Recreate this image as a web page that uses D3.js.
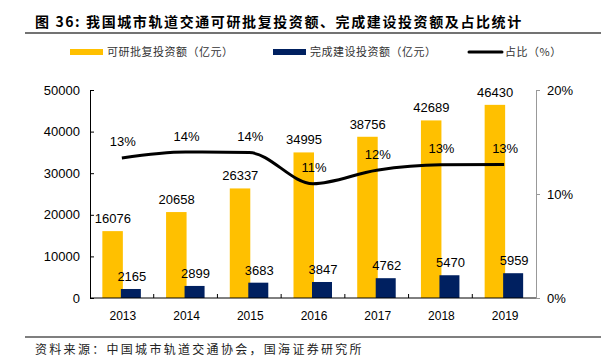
<!DOCTYPE html>
<html>
<head>
<meta charset="utf-8">
<script src="https://cdn.jsdelivr.net/npm/d3@7"></script>
<style>
  body { margin: 0; background: #fff; }
  text { font-family: "Liberation Sans", Arial, sans-serif; }
  .cjk { font-family: "Noto Sans CJK SC", sans-serif; }
</style>
</head>
<body>
<svg id="chart" width="609" height="359"></svg>
<script>
var years = ['2013', '2014', '2015', '2016', '2017', '2018', '2019'],
    approved = [16076, 20658, 26337, 34995, 38756, 42689, 46430],
    completed = [2165, 2899, 3683, 3847, 4762, 5470, 5959],
    ratio = [13.47, 14.03, 13.98, 10.99, 12.29, 12.81, 12.83],
    leftTicks = [0, 10000, 20000, 30000, 40000, 50000],
    rightTicks = [0, 10, 20];

var svg = d3.select('#chart'),
    plotLeft = 90,
    plotRight = 536,
    plotTop = 90,
    plotBottom = 298,
    yellow = '#FFC000',
    navy = '#002060';

var x = d3.scaleBand().domain(years).range([plotLeft, plotRight]),
    y = d3.scaleLinear().domain([0, 50000]).range([plotBottom, plotTop]),
    y2 = d3.scaleLinear().domain([0, 20]).range([plotBottom, plotTop]);

// title and rules
svg.append('text')
   .attr('class', 'cjk')
   .attr('x', 35)
   .attr('y', 27)
   .style('font-size', '14px')
   .style('font-weight', 'bold')
   .style('letter-spacing', '1.6px')
   .text('图 36:  我国城市轨道交通可研批复投资额、完成建设投资额及占比统计');

svg.append('line')
   .attr('x1', 25).attr('x2', 601)
   .attr('y1', 33).attr('y2', 33)
   .attr('stroke', '#444')
   .attr('stroke-width', 1.6);

svg.append('line')
   .attr('x1', 25).attr('x2', 601)
   .attr('y1', 337).attr('y2', 337)
   .attr('stroke', '#555')
   .attr('stroke-width', 1.6);

svg.append('text')
   .attr('class', 'cjk')
   .attr('x', 35)
   .attr('y', 354)
   .style('font-size', '12px')
   .style('letter-spacing', '2.3px')
   .attr('fill', '#222')
   .text('资料来源：中国城市轨道交通协会，国海证券研究所');

// legend
var legend = [
  {label: '可研批复投资额（亿元）', x: 70, kind: 'bar', color: yellow},
  {label: '完成建设投资额（亿元）', x: 273, kind: 'bar', color: navy},
  {label: '占比（%）', x: 468, kind: 'line', color: '#000'}
];

var lg = svg.append('g')
            .selectAll('g')
            .data(legend)
            .join('g')
            .attr('transform', function(d){ return 'translate(' + d.x + ', 52)'; });

lg.filter(function(d){ return d.kind === 'bar'; })
  .append('rect')
  .attr('x', 0).attr('y', -3)
  .attr('width', 33).attr('height', 6)
  .attr('fill', function(d){ return d.color; });

lg.filter(function(d){ return d.kind === 'line'; })
  .append('line')
  .attr('x1', 1).attr('x2', 34)
  .attr('y1', 0).attr('y2', 0)
  .attr('stroke', '#000')
  .attr('stroke-width', 3)
  .attr('stroke-linecap', 'round');

lg.append('text')
  .attr('class', 'cjk')
  .attr('x', 37)
  .attr('y', 4)
  .style('font-size', '11px')
  .style('letter-spacing', '0.5px')
  .attr('fill', '#333')
  .text(function(d){ return d.label; });

// bars
var bw = x.bandwidth();

svg.append('g')
   .selectAll('rect')
   .data(approved)
   .join('rect')
   .attr('x', function(d, i){ return x(years[i]) + bw / 2 - 19.5; })
   .attr('y', function(d){ return y(d); })
   .attr('width', 20.5)
   .attr('height', function(d){ return plotBottom - y(d); })
   .attr('fill', yellow);

svg.append('g')
   .selectAll('rect')
   .data(completed)
   .join('rect')
   .attr('x', function(d, i){ return x(years[i]) + bw / 2 - 1; })
   .attr('y', function(d){ return y(d); })
   .attr('width', 20)
   .attr('height', function(d){ return plotBottom - y(d); })
   .attr('fill', navy);

// axes
var leftAxis = svg.append('g')
                  .attr('transform', 'translate(' + plotLeft + ',0)')
                  .call(d3.axisLeft(y).tickValues(leftTicks).tickSize(-4).tickPadding(10)
                          .tickSizeOuter(0).tickFormat(d3.format('d')));
leftAxis.selectAll('.domain, line').attr('stroke', '#000');
leftAxis.selectAll('text').style('font-size', '13px').attr('fill', '#000');

var rightAxis = svg.append('g')
                   .attr('transform', 'translate(' + plotRight + ',0)')
                   .call(d3.axisRight(y2).tickValues(rightTicks).tickSize(4).tickPadding(7).tickSizeOuter(0)
                           .tickFormat(function(d){ return d + '%'; }));
rightAxis.selectAll('.domain, line').attr('stroke', '#999');
rightAxis.selectAll('text').style('font-size', '13px').attr('fill', '#000');

var xTicks = d3.range(1, years.length).map(function(i){ return x(years[i]); });
svg.append('g')
   .selectAll('line')
   .data(xTicks)
   .join('line')
   .attr('x1', function(d){ return d; })
   .attr('x2', function(d){ return d; })
   .attr('y1', plotBottom - 4)
   .attr('y2', plotBottom)
   .attr('stroke', '#000');

svg.append('line')
   .attr('x1', plotLeft).attr('x2', plotRight)
   .attr('y1', plotBottom).attr('y2', plotBottom)
   .attr('stroke', '#000');

svg.append('g')
   .selectAll('text')
   .data(years)
   .join('text')
   .attr('x', function(d){ return x(d) + bw / 2 + 1; })
   .attr('y', 320)
   .attr('text-anchor', 'middle')
   .style('font-size', '12px')
   .text(function(d){ return d; });

// line
var line = d3.line()
             .x(function(d, i){ return x(years[i]) + bw / 2; })
             .y(function(d){ return y2(d); })
             .curve(d3.curveMonotoneX);

svg.append('path')
   .datum(ratio)
   .attr('d', line)
   .attr('fill', 'none')
   .attr('stroke', '#000')
   .attr('stroke-width', 3);

// labels
svg.append('g')
   .selectAll('text')
   .data(approved)
   .join('text')
   .attr('x', function(d, i){ return x(years[i]) + bw / 2 - 9; })
   .attr('y', function(d){ return y(d) - 8; })
   .attr('text-anchor', 'middle')
   .style('font-size', '13px')
   .text(function(d){ return d; });

svg.append('g')
   .selectAll('text')
   .data(completed)
   .join('text')
   .attr('x', function(d, i){ return x(years[i]) + bw / 2 + 10; })
   .attr('y', function(d){ return y(d) - 8; })
   .attr('text-anchor', 'middle')
   .style('font-size', '13px')
   .text(function(d){ return d; });

svg.append('g')
   .selectAll('text')
   .data(ratio)
   .join('text')
   .attr('x', function(d, i){ return x(years[i]) + bw / 2 + 1; })
   .attr('y', function(d){ return y2(d) - 11.5; })
   .attr('text-anchor', 'middle')
   .style('font-size', '13px')
   .text(function(d){ return Math.round(d) + '%'; });
</script>
</body>
</html>
